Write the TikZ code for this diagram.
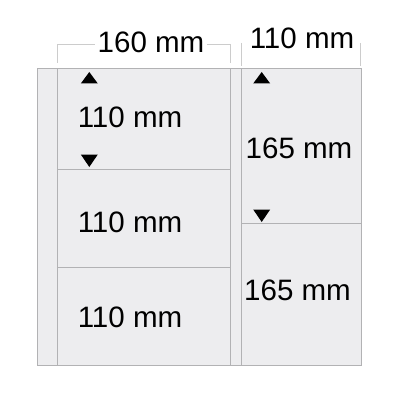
\documentclass[tikz,border=0pt]{standalone}
\usepackage{fontspec}
\setmainfont{Liberation Sans}
\definecolor{sheetfill}{HTML}{EDEDEF}
\definecolor{sheetline}{HTML}{B2B2B4}
\definecolor{dimgray}{HTML}{CCCCCC}
\begin{document}
\begin{tikzpicture}[x=0.025cm,y=-0.025cm,
	pocket/.style={draw=sheetline,fill=sheetfill,line width=0.7pt},
	dimline/.style={draw=dimgray,line width=0.5pt},
	size/.style={font=\fontsize{21}{24}\selectfont,inner sep=0pt}]

\useasboundingbox (0,0) rectangle (400,400);

% sheet and pockets
\draw[pocket] (37,68) rectangle (361,365);
\draw[pocket] (57,68) rectangle (230,365);
\draw[pocket] (241,68) rectangle (361,365);
\draw[pocket] (57,169) -- (230,169);
\draw[pocket] (57,267) -- (230,267);
\draw[pocket] (241,223) -- (361,223);

% dimensions on top
\draw[dimline] (57,63) -- (57,44) -- (230,44) -- (230,63);
\node[size,fill=white,inner sep=2pt] (w1) at (151,42) {160 mm};
\draw[dimline] (241.5,43) -- (241.5,66);
\draw[dimline] (360,43) -- (360,66);
\node[size] (w2) at (302,38) {110 mm};

% pocket heights
\node[size] (h1) at (130,117) {110 mm};
\node[size] (h2) at (130,222) {110 mm};
\node[size] (h3) at (130,317) {110 mm};
\node[size] (h4) at (299,148.5) {165 mm};
\node[size] (h5) at (297.5,290) {165 mm};

% arrow marks
\foreach \x/\y in {89.3/72,261.7/72} {
	\fill (\x-8.5,\y+11.5) -- (\x,\y) -- (\x+8.5,\y+11.5) -- cycle;
}
\foreach \x/\y in {89.3/167,261.7/222} {
	\fill (\x-8.5,\y-12.5) -- (\x,\y) -- (\x+8.5,\y-12.5) -- cycle;
}

\end{tikzpicture}
\end{document}
